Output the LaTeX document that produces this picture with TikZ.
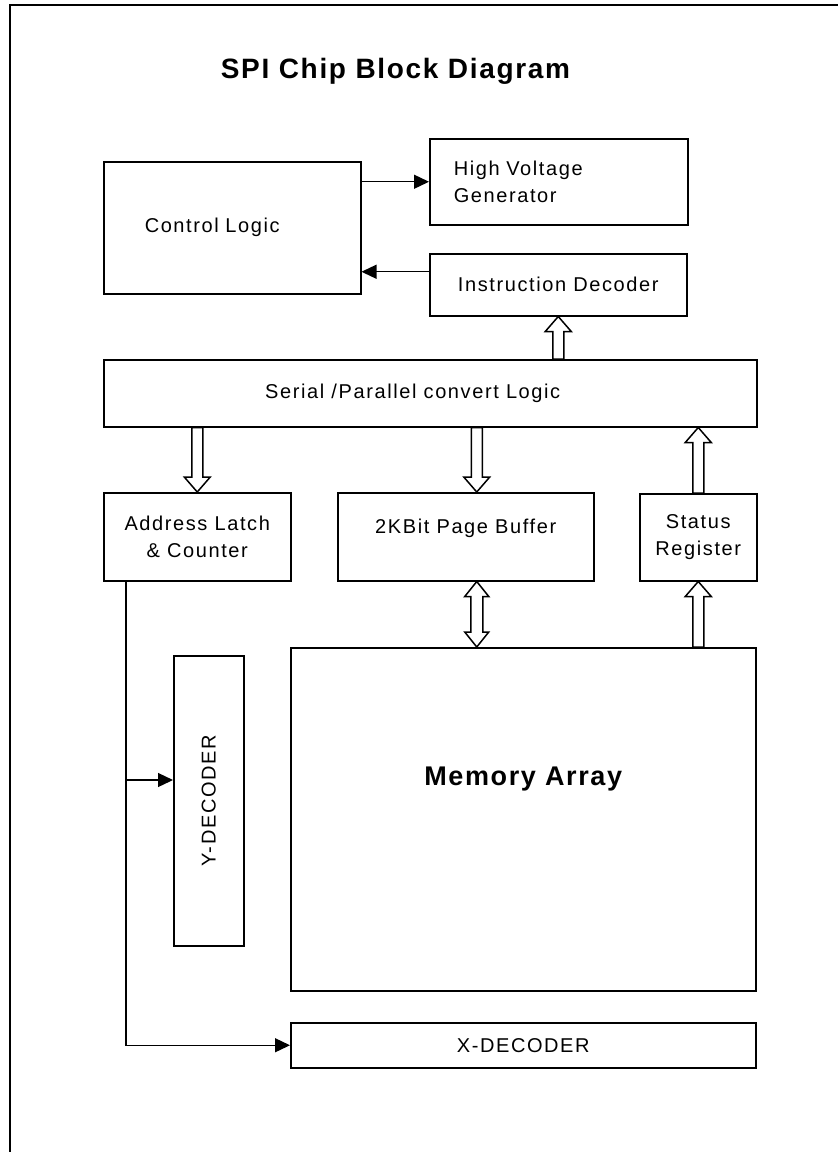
\documentclass[tikz,border=0pt]{standalone}
\usepackage{fontspec}
\usepackage{graphicx}
\setmainfont{Liberation Sans}[LetterSpace=8]
\newfontfamily\titlefont{Liberation Sans}[LetterSpace=6]
\usetikzlibrary{calc,arrows.meta}

\tikzset{
  box/.style={draw, line width=1.5pt, inner sep=0pt, anchor=north west,
    font=\fontsize{20}{26.5}\selectfont, align=center},
  lbl/.style={inner sep=0pt, font=\fontsize{20}{26.5}\selectfont},
  conn/.style={line width=1.3pt, -{Triangle[length=15pt,width=14pt]}},
  hollow/.style={draw, line width=1.5pt, fill=white, line join=miter},
}

% fat open arrow, #1 = start, #2 = tip (vertical only)
\newcommand{\fatarrow}[2]{%
  \draw[hollow] let \p1=(#1), \p2=(#2), \n1={sign(\y2-\y1)*15} in
    (\x1-5.5,\y1) -- (\x1-5.5,\y2-\n1) -- (\x1-13,\y2-\n1) -- (\x1,\y2)
    -- (\x1+13,\y2-\n1) -- (\x1+5.5,\y2-\n1) -- (\x1+5.5,\y1) -- cycle;}
% fat open arrow with heads at both ends
\newcommand{\fatdouble}[2]{%
  \draw[hollow] let \p1=(#1), \p2=(#2), \n1={sign(\y2-\y1)*15} in
    (\x1,\y1) -- (\x1+12,\y1+\n1) -- (\x1+6,\y1+\n1) -- (\x1+6,\y2-\n1)
    -- (\x1+12,\y2-\n1) -- (\x1,\y2) -- (\x1-12,\y2-\n1) -- (\x1-6,\y2-\n1)
    -- (\x1-6,\y1+\n1) -- (\x1-12,\y1+\n1) -- cycle;}

\begin{document}
\begin{tikzpicture}[x=1pt,y=-1pt]
  \useasboundingbox (0,0) rectangle (838,1152);
  % frame
  \draw[line width=2pt] (10,1160) -- (10,5) -- (845,5);

  \node[inner sep=0pt, anchor=base, font=\titlefont\fontsize{28}{32}\selectfont\bfseries]
    (title) at (395.5,78) {SPI Chip Block Diagram};

  % top row
  \node[box, minimum width=257pt, minimum height=132pt, text width=175pt,
    inner xsep=41pt, align=left] (ctl) at (103,161) {Control Logic};
  \node[box, minimum width=258pt, minimum height=86pt, text width=210pt,
    inner xsep=24pt, align=left] (hvg) at (429,138) {High Voltage\\Generator};
  \node[box, minimum width=257pt, minimum height=62pt] (idec) at (429,253)
    {Instruction Decoder};
  \draw[conn] (hvg.west -| ctl.east) -- (hvg.west);
  \coordinate (idout) at ($(idec.west)+(0,-13)$);
  \draw[conn] (idout) -- (idout -| ctl.east);

  % serial / parallel
  \node[box, minimum width=653pt, minimum height=67pt] (serial) at (103,359) {};
  \node[lbl, anchor=base west] (serial-txt) at (265,398)
    {Serial /Parallel convert Logic};
  \fatarrow{serial.north -| idec.south}{idec.south}

  % middle row
  \node[box, minimum width=187pt, minimum height=88pt] (addr) at (103,492)
    {Address Latch\\\& Counter};
  \node[box, minimum width=256pt, minimum height=88pt] (page) at (337,492) {};
  \node[lbl, anchor=base] (page-txt) at ($(page.north)+(0,41)$)
    {2KBit Page Buffer};
  \node[box, minimum width=117pt, minimum height=87pt] (status) at (639,493)
    {Status\\Register};
  \coordinate (pbx) at ($(page.south)+(11,0)$);
  \fatarrow{serial.south -| addr.north}{addr.north}
  \fatarrow{serial.south -| pbx}{page.north -| pbx}
  \fatarrow{status.north}{serial.south -| status.north}

  % memory
  \node[box, minimum width=465pt, minimum height=343pt] (mem) at (290,647) {};
  \node[lbl, anchor=base, font=\titlefont\fontsize{27}{32}\selectfont\bfseries]
    (mem-txt) at ($(mem.north)+(0,138)$) {Memory Array};
  \fatdouble{pbx}{mem.north -| pbx}
  \fatarrow{mem.north -| status.south}{status.south}

  % decoders
  \node[box, minimum width=70pt, minimum height=290pt] (ydec) at (173,655)
    {\rotatebox{90}{Y-DECODER}};
  \node[box, minimum width=465pt, minimum height=45pt] (xdec) at (290,1022)
    {X-DECODER};
  \coordinate (bus) at ($(addr.south west)+(23,0)$);
  \coordinate (yin) at ($(ydec.north west)+(0,125)$);
  \draw[conn] (bus) |- (xdec.west);
  \draw[conn] (bus |- yin) -- (yin);
\end{tikzpicture}
\end{document}
